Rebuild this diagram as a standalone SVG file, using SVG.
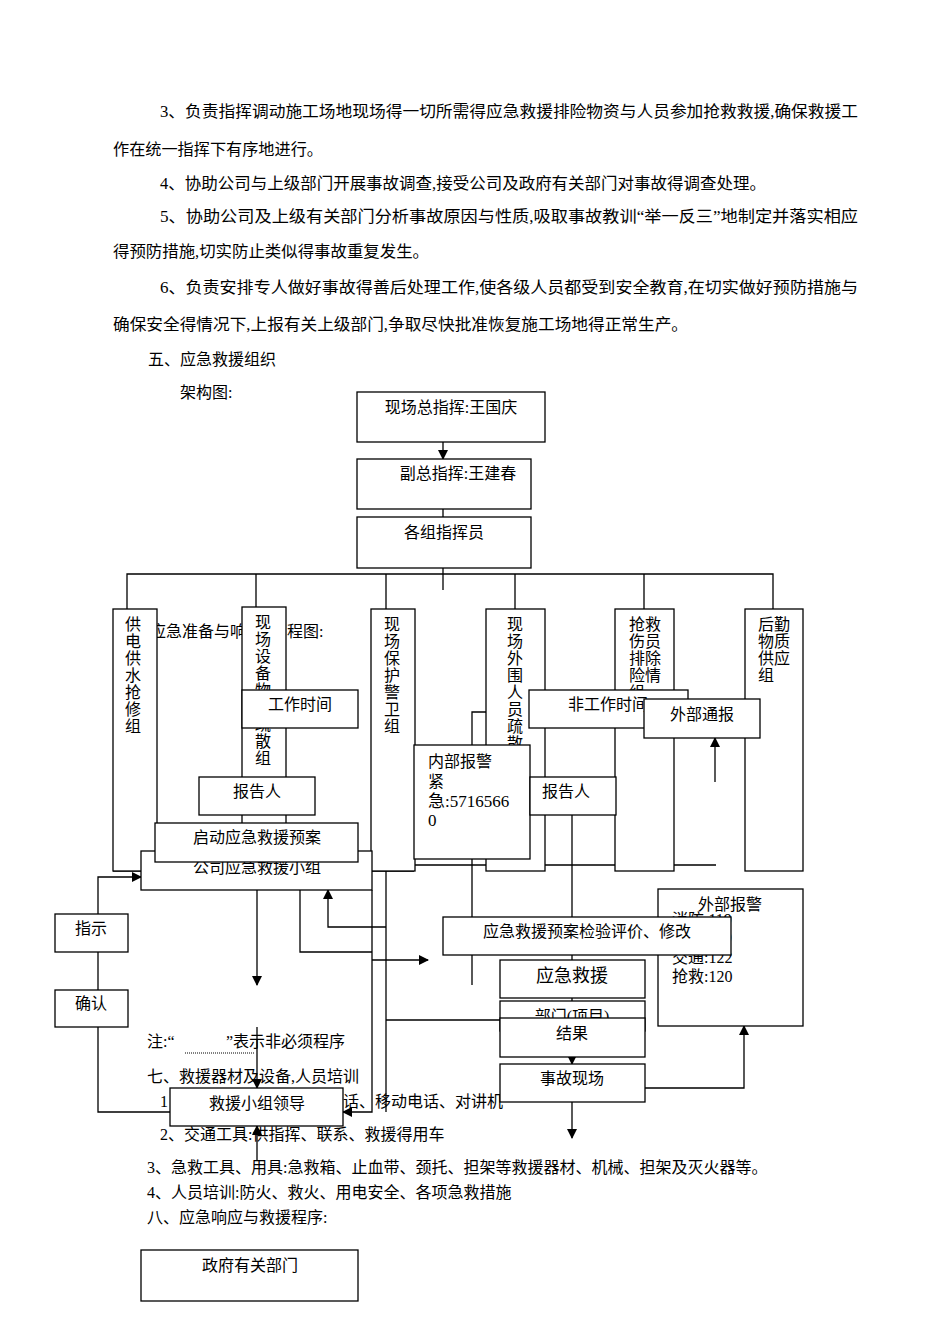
<svg xmlns="http://www.w3.org/2000/svg" width="950" height="1344" viewBox="0 0 950 1344">
<style>
text{font-family:"Liberation Serif","Noto Sans CJK SC",serif;font-size:16px;fill:#000}
.b{fill:#fff;stroke:#000;stroke-width:1.3}
.c{text-anchor:middle}
.l{fill:none;stroke:#000;stroke-width:1.3}
</style>
<defs><marker id="a" markerWidth="10" markerHeight="10" refX="9" refY="5" orient="auto" markerUnits="userSpaceOnUse"><path d="M0,0L10,5L0,10z"/></marker></defs>
<rect width="950" height="1344" fill="#fff"/>
<g id="paras">
<text x="160" y="117" textLength="698" lengthAdjust="spacingAndGlyphs">3、负责指挥调动施工场地现场得一切所需得应急救援排险物资与人员参加抢救救援,确保救援工</text>
<text x="113" y="155" textLength="210" lengthAdjust="spacingAndGlyphs">作在统一指挥下有序地进行。</text>
<text x="160" y="189" textLength="606" lengthAdjust="spacingAndGlyphs">4、协助公司与上级部门开展事故调查,接受公司及政府有关部门对事故得调查处理。</text>
<text x="160" y="222" textLength="698" lengthAdjust="spacingAndGlyphs">5、协助公司及上级有关部门分析事故原因与性质,吸取事故教训“举一反三”地制定并落实相应</text>
<text x="113" y="257" textLength="316" lengthAdjust="spacingAndGlyphs">得预防措施,切实防止类似得事故重复发生。</text>
<text x="160" y="293" textLength="698" lengthAdjust="spacingAndGlyphs">6、负责安排专人做好事故得善后处理工作,使各级人员都受到安全教育,在切实做好预防措施与</text>
<text x="113" y="330" textLength="575" lengthAdjust="spacingAndGlyphs">确保安全得情况下,上报有关上级部门,争取尽快批准恢复施工场地得正常生产。</text>
<text x="148" y="365">五、应急救援组织</text>
<text x="180" y="398">架构图:</text>
<text x="150" y="637">应急准备与响</text><text x="287" y="637">程图:</text>
<text x="147" y="1047">注:“</text><text x="226" y="1047">”表示非必须程序</text>
<text x="147" y="1082">七、救援器材及设备,人员培训</text>
<text x="160" y="1107">1</text><text x="343" y="1107">话、移动电话、对讲机</text>
<text x="160" y="1140">2、交通工具:供指挥、联系、救援得用车</text>
<text x="147" y="1173">3、急救工具、用具:急救箱、止血带、颈托、担架等救援器材、机械、担架及灭火器等。</text>
<text x="147" y="1198">4、人员培训:防火、救火、用电安全、各项急救措施</text>
<text x="147" y="1223">八、应急响应与救援程序:</text>
</g>
<g id="connectors">
<line class="l" x1="443" y1="422" x2="443" y2="459" marker-end="url(#a)"/>
<line class="l" x1="443" y1="509" x2="443" y2="517"/>
<line class="l" x1="443" y1="568" x2="443" y2="590"/>
<path class="l" d="M127,609V574H773V609M256,574V609M386,574V609M515,574V609M644,574V609"/>
<path class="l" d="M113,871H141"/>
<path class="l" d="M98,952V990"/>
<path class="l" d="M98,914V877H141" marker-end="url(#a)"/>
<path class="l" d="M98,1027V1112H170"/>
<line class="l" x1="257" y1="890" x2="257" y2="985" marker-end="url(#a)"/>
<line class="l" x1="257" y1="1027" x2="257" y2="1088" marker-end="url(#a)"/>
<line x1="185" y1="1053" x2="255" y2="1053" stroke="#000" stroke-dasharray="1,1"/>
<line class="l" x1="257" y1="1160" x2="257" y2="1126" marker-end="url(#a)"/>
<path class="l" d="M300,890V952H372"/>
<path class="l" d="M372,890V1112H343" marker-end="url(#a)"/>
<path class="l" d="M372,960H428" marker-end="url(#a)"/>
<path class="l" d="M386,927H328V890" marker-end="url(#a)"/>
<path class="l" d="M386,803V1112"/>
<path class="l" d="M386,1020H500"/>
<path class="l" d="M401,780V867M401,827H472"/>
<path class="l" d="M472,985V712H529M472,858H500"/>
<path class="l" d="M372,865H716M372,871H414"/>
<path class="l" d="M572,815V1018" marker-end="url(#a)"/>
<line class="l" x1="572" y1="1057" x2="572" y2="1064" marker-end="url(#a)"/>
<line class="l" x1="572" y1="1102" x2="572" y2="1138" marker-end="url(#a)"/>
<path class="l" d="M645,1088H744V1026" marker-end="url(#a)"/>
<line class="l" x1="715" y1="782" x2="715" y2="738" marker-end="url(#a)"/>
</g>
<g id="n1"><rect class="b" x="357" y="392" width="188" height="50"/><text class="c" x="451" y="413">现场总指挥:王国庆</text></g>
<g id="n2"><rect class="b" x="357" y="459" width="174" height="50"/><text class="c" x="458" y="479">副总指挥:王建春</text></g>
<g id="n3"><rect class="b" x="357" y="517" width="174" height="51"/><text class="c" x="444" y="538">各组指挥员</text></g>
<g id="g1"><rect class="b" x="113" y="609" width="44" height="262"/><text class="c" x="133" y="630">供</text><text class="c" x="133" y="647">电</text><text class="c" x="133" y="664">供</text><text class="c" x="133" y="681">水</text><text class="c" x="133" y="698">抢</text><text class="c" x="133" y="715">修</text><text class="c" x="133" y="732">组</text></g>
<g id="g2"><rect class="b" x="242" y="607" width="44" height="264"/><text class="c" x="263" y="628">现</text><text class="c" x="263" y="645">场</text><text class="c" x="263" y="662">设</text><text class="c" x="263" y="679">备</text><text class="c" x="263" y="696">物</text><text class="c" x="263" y="713">资</text><text class="c" x="263" y="730">疏</text><text class="c" x="263" y="747">散</text><text class="c" x="263" y="764">组</text></g>
<g id="g3"><rect class="b" x="371" y="609" width="44" height="262"/><text class="c" x="392" y="630">现</text><text class="c" x="392" y="647">场</text><text class="c" x="392" y="664">保</text><text class="c" x="392" y="681">护</text><text class="c" x="392" y="698">警</text><text class="c" x="392" y="715">卫</text><text class="c" x="392" y="732">组</text></g>
<g id="g4"><rect class="b" x="486" y="609" width="59" height="262"/><text class="c" x="515" y="630">现</text><text class="c" x="515" y="647">场</text><text class="c" x="515" y="664">外</text><text class="c" x="515" y="681">围</text><text class="c" x="515" y="698">人</text><text class="c" x="515" y="715">员</text><text class="c" x="515" y="732">疏</text><text class="c" x="515" y="749">散</text><text class="c" x="515" y="766">组</text></g>
<g id="g5"><rect class="b" x="615" y="609" width="59" height="262"/><text class="c" x="645" y="630">抢救</text><text class="c" x="645" y="647">伤员</text><text class="c" x="645" y="664">排除</text><text class="c" x="645" y="681">险情</text><text class="c" x="637" y="698">组</text></g>
<g id="g6"><rect class="b" x="745" y="609" width="58" height="262"/><text class="c" x="774" y="630">后勤</text><text class="c" x="774" y="647">物质</text><text class="c" x="774" y="664">供应</text><text class="c" x="766" y="681">组</text></g>
<g id="f1"><rect class="b" x="242" y="690" width="116" height="38"/><text class="c" x="300" y="710">工作时间</text></g>
<g id="f2"><rect class="b" x="529" y="690" width="159" height="38"/><text class="c" x="608" y="710">非工作时间</text></g>
<g id="f3"><rect class="b" x="644" y="699" width="116" height="39"/><text class="c" x="702" y="720">外部通报</text></g>
<g id="f4"><rect class="b" x="414" y="745" width="116" height="114"/><text x="428" y="767">内部报警</text><text x="428" y="787">紧</text><text x="428" y="807" style="font-size:17px">急:5716566</text><text x="428" y="826" style="font-size:17px">0</text></g>
<g id="f5"><rect class="b" x="199" y="777" width="116" height="38"/><text class="c" x="257" y="797">报告人</text></g>
<g id="f6"><rect class="b" x="530" y="777" width="86" height="38"/><text class="c" x="566" y="797">报告人</text></g>
<g id="f7"><rect class="b" x="141" y="851" width="231" height="39"/><text class="c" x="257" y="873">公司应急救援小组</text></g>
<g id="f8"><rect class="b" x="155" y="823" width="203" height="39"/><text class="c" x="257" y="843">启动应急救援预案</text></g>
<g id="f9"><rect class="b" x="658" y="889" width="145" height="137"/><text x="698" y="910">外部报警</text><text x="672" y="925">消防:119</text><text x="672" y="943">公安:110</text><text x="672" y="963">交通:122</text><text x="672" y="982">抢救:120</text></g>
<g id="f10"><rect class="b" x="443" y="917" width="288" height="38"/><text class="c" x="587" y="937">应急救援预案检验评价、修改</text></g>
<g id="f11"><rect class="b" x="500" y="960" width="145" height="38"/><text class="c" x="572" y="982" style="font-size:18px">应急救援</text></g>
<g id="f12"><rect class="b" x="500" y="1001" width="145" height="30"/><text class="c" x="572" y="1022">部门(项目)</text></g>
<g id="f13"><rect class="b" x="500" y="1018" width="145" height="39"/><text class="c" x="572" y="1039">结果</text></g>
<g id="f14"><rect class="b" x="500" y="1064" width="145" height="38"/><text class="c" x="572" y="1084">事故现场</text></g>
<g id="f15"><rect class="b" x="55" y="914" width="73" height="38"/><text class="c" x="91" y="934">指示</text></g>
<g id="f16"><rect class="b" x="55" y="990" width="73" height="37"/><text class="c" x="91" y="1009">确认</text></g>
<g id="f17"><rect class="b" x="170" y="1088" width="173" height="38"/><text class="c" x="257" y="1109">救援小组领导</text></g>
<g id="f18"><rect class="b" x="141" y="1250" width="217" height="51"/><text class="c" x="250" y="1271">政府有关部门</text></g>
</svg>
